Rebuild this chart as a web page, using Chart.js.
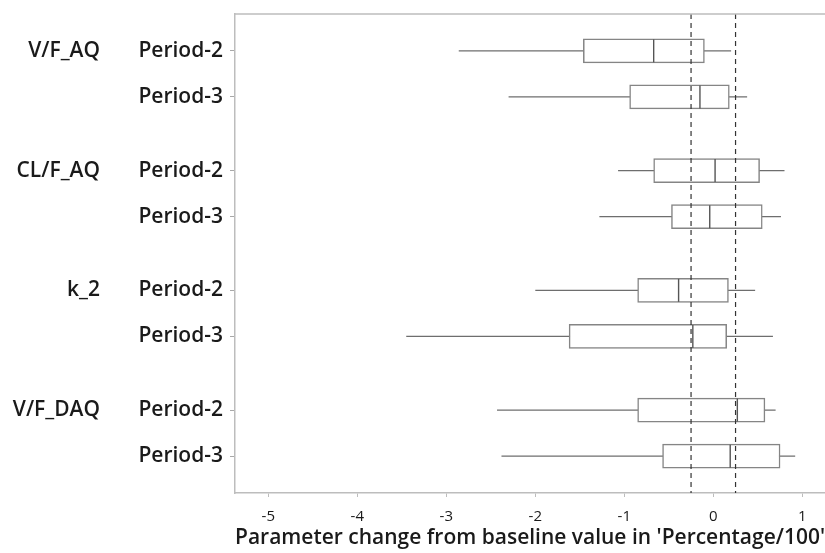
<!DOCTYPE html>
<html>
<head>
<meta charset="utf-8">
<script src="https://cdn.jsdelivr.net/npm/chart.js@4.4.1/dist/chart.umd.min.js"></script>
<style>
    html, body { margin: 0; padding: 0; background: #fff; overflow: hidden; }
    #wrap { width: 825px; height: 553px; }
</style>
</head>
<body>
<div id="wrap"><canvas id="boxChart" width="825" height="553"></canvas></div>
<script>
// Data
const groups = ['V/F_AQ', 'CL/F_AQ', 'k_2', 'V/F_DAQ'];
const periods = ['Period-2', 'Period-3'];
const whiskerLow  = [-2.86, -2.30, -1.07, -1.28, -2.00, -3.45, -2.43, -2.38];
const q1          = [-1.46, -0.94, -0.67, -0.47, -0.85, -1.62, -0.85, -0.57];
const median      = [-0.67, -0.15,  0.02, -0.04, -0.39, -0.23,  0.27,  0.19];
const q3          = [-0.10,  0.18,  0.52,  0.55,  0.17,  0.15,  0.58,  0.75];
const whiskerHigh = [ 0.20,  0.38,  0.80,  0.76,  0.47,  0.67,  0.70,  0.92];
const refLines = [-0.25, 0.25];
const xTicks = [-5, -4, -3, -2, -1, 0, 1];

// row position on the y scale: groups are separated by a wider gap
const GROUP_STEP = 2.6;
const rowPos = [];
const rowLabels = [];
groups.forEach((g, gi) => {
    periods.forEach((p, pi) => {
        rowPos.push(gi * GROUP_STEP + pi);
        rowLabels.push(p);
    });
});
const groupPos = groups.map((g, gi) => gi * GROUP_STEP);

const Y_MIN = -0.8, Y_MAX = 9.6;
const GREY = '#bdbdbd';

Chart.defaults.font.family = "'Open Sans', sans-serif";
Chart.defaults.color = '#1a1a1a';

// whiskers: one thin line per row, boxes are painted over them
const whiskerSets = rowPos.map((pos, i) => ({
    type: 'line',
    data: [{ x: whiskerLow[i], y: pos }, { x: whiskerHigh[i], y: pos }],
    borderColor: '#6e6e6e',
    borderWidth: 1.3,
    pointRadius: 0,
    order: 3
}));

const refSets = refLines.map(v => ({
    type: 'line',
    data: [{ x: v, y: Y_MIN }, { x: v, y: Y_MAX }],
    borderColor: '#333',
    borderWidth: 1.2,
    borderDash: [5, 4],
    pointRadius: 0,
    order: 0
}));

// top frame line
const topFrame = {
    id: 'topFrame',
    afterDraw(chart) {
        const { ctx, chartArea } = chart;
        ctx.save();
        ctx.strokeStyle = GREY;
        ctx.lineWidth = 1.5;
        ctx.beginPath();
        ctx.moveTo(chartArea.left, chartArea.top);
        ctx.lineTo(chartArea.right, chartArea.top);
        ctx.stroke();
        ctx.restore();
    }
};

function noPad(scale) {
    scale.paddingTop = 0;
    scale.paddingBottom = 0;
    scale.paddingLeft = 0;
    scale.paddingRight = 0;
}

const ctx = document.getElementById('boxChart').getContext('2d');
new Chart(ctx, {
    type: 'scatter',
    data: {
        datasets: [
            ...whiskerSets,
            {
                type: 'bar',
                indexAxis: 'y',
                data: rowPos.map((pos, i) => ({ x: [q1[i], q3[i]], y: pos })),
                backgroundColor: '#ffffff',
                borderColor: '#858585',
                borderWidth: 1.5,
                borderSkipped: false,
                barThickness: 24,
                grouped: false,
                order: 2
            },
            {
                type: 'scatter',
                data: rowPos.map((pos, i) => ({ x: median[i], y: pos })),
                pointStyle: 'line',
                rotation: 90,
                radius: 11.5,
                borderColor: '#555',
                borderWidth: 1.4,
                order: 1
            },
            ...refSets
        ]
    },
    options: {
        responsive: false,
        animation: false,
        events: [],
        layout: { autoPadding: false, padding: { top: 14, left: 0, right: 0, bottom: 0 } },
        plugins: {
            legend: { display: false },
            tooltip: { enabled: false }
        },
        scales: {
            x: {
                type: 'linear',
                position: 'bottom',
                min: -5.374,
                max: 1.255,
                offset: false,
                afterBuildTicks: scale => { scale.ticks = xTicks.map(v => ({ value: v })); },
                afterFit: scale => { scale.height = 60; noPad(scale); },
                ticks: {
                    padding: 11,
                    font: { size: 15, weight: '500' },
                    color: '#1a1a1a',
                    callback: v => String(v)
                },
                grid: { display: true, drawOnChartArea: false, tickLength: 4, color: GREY, offset: false },
                border: { display: true, color: GREY, width: 1.5 },
                title: {
                    display: true,
                    text: "Parameter change from baseline value in 'Percentage/100'",
                    font: { size: 21, weight: '600' },
                    color: '#1a1a1a',
                    padding: { top: 0, bottom: 2 }
                }
            },
            y: {
                type: 'linear',
                position: 'left',
                reverse: true,
                min: Y_MIN,
                max: Y_MAX,
                offset: false,
                weight: 0,
                afterBuildTicks: scale => { scale.ticks = rowPos.map(v => ({ value: v })); },
                afterFit: scale => { scale.width = 98; noPad(scale); },
                ticks: {
                    autoSkip: false,
                    padding: 7,
                    font: { size: 21, weight: '600' },
                    color: '#1a1a1a',
                    callback: (v, i) => rowLabels[i]
                },
                grid: { display: true, drawOnChartArea: false, tickLength: 5, color: '#a8a8a8', offset: false },
                border: { display: true, color: GREY, width: 1.5 }
            },
            y2: {
                type: 'linear',
                position: 'left',
                reverse: true,
                min: Y_MIN,
                max: Y_MAX,
                offset: false,
                weight: 1,
                afterBuildTicks: scale => { scale.ticks = groupPos.map(v => ({ value: v })); },
                afterFit: scale => { scale.width = 137; noPad(scale); },
                ticks: {
                    autoSkip: false,
                    padding: 37,
                    font: { size: 21, weight: '600' },
                    color: '#1a1a1a',
                    callback: (v, i) => groups[i]
                },
                grid: { display: false, drawTicks: false, offset: false },
                border: { display: false }
            }
        }
    },
    plugins: [topFrame]
});
</script>
</body>
</html>
